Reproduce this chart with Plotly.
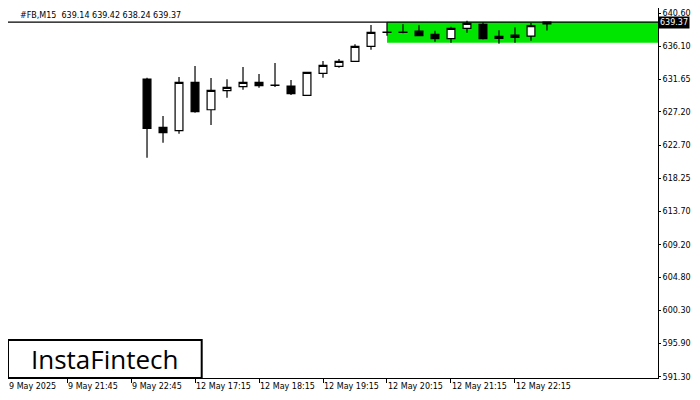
import plotly.graph_objects as go

# 15-minute candles, #FB, from 9 May 2025 22:30 onward
opens  = [631.66, 625.12, 624.66, 631.21, 627.50, 630.08, 630.62, 631.21, 630.85, 630.71,
          629.45, 632.43, 633.38, 634.06, 636.09, 637.99, 637.99, 638.16, 637.72, 637.12,
          638.53, 639.07, 637.17, 637.62, 637.48, 639.14]
highs  = [631.84, 626.65, 631.93, 633.42, 631.80, 631.62, 633.29, 632.34, 633.83, 631.53,
          632.60, 634.10, 634.37, 636.36, 638.97, 639.34, 639.07, 638.97, 638.20, 638.74,
          639.56, 639.34, 638.26, 638.66, 639.25, 639.42]
lows   = [621.00, 623.03, 624.25, 627.10, 625.43, 629.13, 630.21, 630.48, 630.58, 629.49,
          629.40, 631.84, 633.19, 634.00, 635.63, 637.53, 637.85, 637.50, 636.71, 636.58,
          637.93, 637.00, 636.44, 636.58, 636.85, 638.24]
closes = [624.98, 624.39, 631.21, 627.23, 630.13, 630.54, 631.21, 630.75, 630.80, 629.67,
          632.57, 633.52, 634.06, 636.09, 637.99, 638.00, 638.00, 637.53, 637.12, 638.53,
          639.21, 637.12, 637.44, 637.31, 638.88, 639.37]
idx = list(range(len(opens)))

zone_start, zone_top, zone_bottom = 15, 639.42, 636.58
last_price = 639.37

ytick_vals = [640.60, 636.10, 631.65, 627.20, 622.70, 618.25, 613.70, 609.20, 604.80, 600.30, 595.90, 591.30]
xtick_pos = [-8.69, -5, -1, 3, 7, 11, 15, 19, 23]
xtick_text = ["9 May 2025", "9 May 21:45", "9 May 22:45", "12 May 17:15", "12 May 18:15",
              "12 May 19:15", "12 May 20:15", "12 May 21:15", "12 May 22:15"]

fig = go.Figure()
fig.add_shape(type="rect", x0=zone_start, x1=33, y0=zone_bottom, y1=zone_top,
              fillcolor="#00e600", line_width=0, layer="below")
fig.add_shape(type="line", x0=-10, x1=33, y0=last_price, y1=last_price,
              line=dict(color="black", width=1.2))
fig.add_trace(go.Candlestick(
    x=idx, open=opens, high=highs, low=lows, close=closes,
    increasing=dict(fillcolor="white", line=dict(color="black", width=1.2)),
    decreasing=dict(fillcolor="black", line=dict(color="black", width=1.2)),
    whiskerwidth=0, showlegend=False, hoverinfo="skip"))

fig.update_layout(
    width=684, height=392, margin=dict(l=0, r=34, t=0, b=22, autoexpand=False),
    paper_bgcolor="white", plot_bgcolor="white",
    font=dict(family="DejaVu Sans", size=8, color="black"),
    xaxis=dict(range=[-8.69, 31.94], rangeslider=dict(visible=False), showgrid=False,
               zeroline=False, showticklabels=False, ticks="outside", tickvals=xtick_pos[1:],
               ticklen=4, tickcolor="black", showline=True, linecolor="black", mirror=True),
    yaxis=dict(range=[591.16, 641.28], side="right", showgrid=False, zeroline=False,
               tickvals=ytick_vals, ticktext=[f"{v:.2f}" for v in ytick_vals],
               ticks="outside", ticklen=2, tickcolor="black",
               showline=True, linecolor="black", mirror=True),
)

for p, t in zip(xtick_pos, xtick_text):
    fig.add_annotation(x=p, y=0, xref="x", yref="paper", text=t, showarrow=False,
                       xanchor="left", yanchor="top", yshift=-2, xshift=-1, font=dict(size=8))

fig.add_annotation(x=1, y=last_price, xref="paper", yref="y", text=f"{last_price:.2f}",
                   showarrow=False, xanchor="left", xshift=0, bgcolor="black",
                   font=dict(color="white", size=8), borderpad=1)
fig.add_annotation(x=0.015, y=1, xref="paper", yref="paper",
                   text="#FB,M15  639.14 639.42 638.24 639.37", showarrow=False,
                   xanchor="left", yanchor="top", yshift=-1, font=dict(size=8))

# logo box
fig.add_shape(type="rect", xref="paper", yref="paper", x0=0.0, x1=0.298, y0=0.0, y1=0.103,
              fillcolor="white", line=dict(color="black", width=2))
fig.add_annotation(x=0.149, y=0.0515, xref="paper", yref="paper", text="InstaFintech",
                   showarrow=False, xanchor="center", yanchor="middle",
                   font=dict(family="Open Sans", size=26, color="black"))

fig.write_html("out.html")
